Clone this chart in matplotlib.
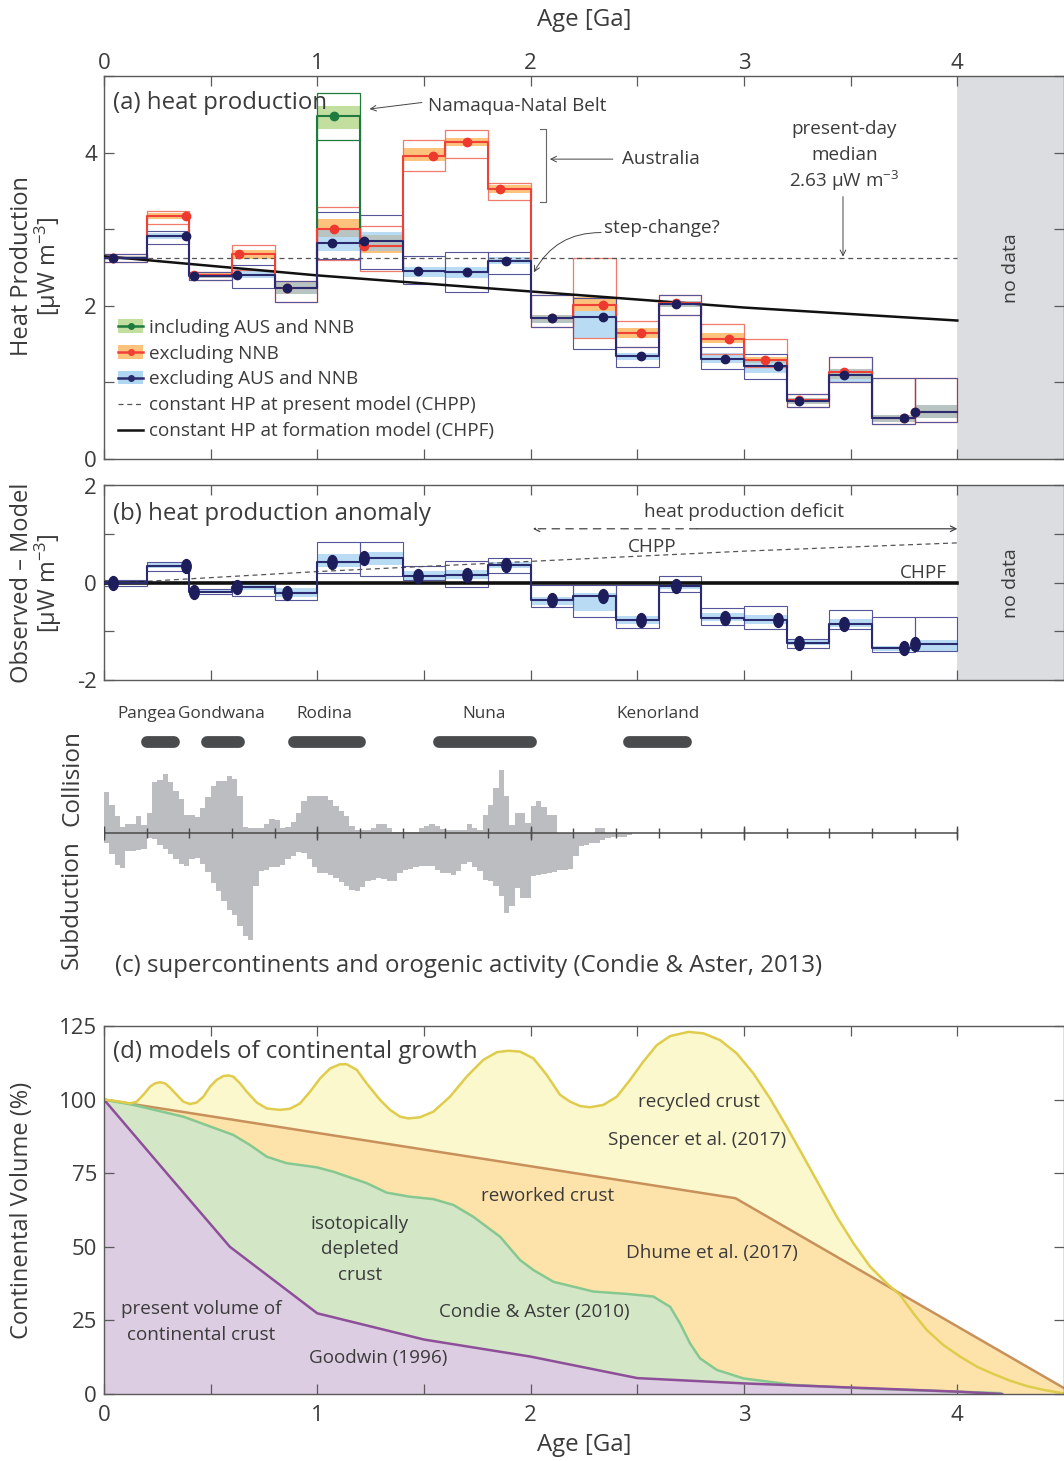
import matplotlib
matplotlib.use("Agg")
import matplotlib.pyplot as plt
import numpy as np
from matplotlib.patches import Patch
from matplotlib.lines import Line2D
from matplotlib.path import Path
from matplotlib.transforms import Affine2D

plt.rcParams['font.family'] = ['Open Sans', 'DejaVu Sans']
plt.rcParams['mathtext.fontset'] = 'custom'
plt.rcParams['mathtext.rm'] = 'Open Sans'
plt.rcParams['mathtext.default'] = 'regular'

TXT = '#3b3b3b'
SPINE = '#5a5a5a'

# ---------------- (a) heat production, 0.2 Ga bins ----------------
edges = [0.0, 0.2, 0.4, 0.6, 0.8, 1.0, 1.2, 1.4, 1.6, 1.8, 2.0,
         2.2, 2.4, 2.6, 2.8, 3.0, 3.2, 3.4, 3.6, 3.8, 4.0]

red_med = [2.63, 3.17, 2.40, 2.68, 2.24, 3.00, 2.79, 3.96, 4.15, 3.53,
           1.84, 2.01, 1.65, 2.04, 1.57, 1.29, 0.77, 1.14, 0.54, 0.61]
red_sh_lo = [2.61, 3.14, 2.37, 2.62, 2.16, 2.90, 2.69, 3.90, 4.09, 3.48,
             1.78, 1.93, 1.58, 1.99, 1.52, 1.25, 0.72, 1.05, 0.49, 0.53]
red_sh_hi = [2.66, 3.21, 2.43, 2.73, 2.32, 3.14, 2.93, 4.07, 4.19, 3.58,
             1.88, 2.12, 1.71, 2.07, 1.65, 1.33, 0.80, 1.18, 0.58, 0.70]
red_env_lo = [2.58, 3.07, 2.34, 2.47, 2.05, 2.60, 2.46, 3.77, 3.94, 3.39,
              1.72, 1.58, 1.47, 1.88, 1.37, 1.20, 0.68, 1.00, 0.46, 0.49]
red_env_hi = [2.68, 3.24, 2.45, 2.80, 2.33, 3.30, 3.05, 4.17, 4.30, 3.61,
              2.14, 2.63, 1.80, 2.15, 1.77, 1.57, 0.85, 1.33, 1.06, 1.06]
red_dx = [0.04, 0.386, 0.424, 0.634, 0.857, 1.08, 1.22, 1.544, 1.70, 1.856,
          2.10, 2.34, 2.515, 2.68, 2.93, 3.10, 3.26, 3.47, 3.75, 3.80]

blue_med = [2.63, 2.91, 2.39, 2.41, 2.24, 2.83, 2.85, 2.46, 2.44, 2.59,
            1.84, 1.86, 1.35, 2.02, 1.31, 1.22, 0.76, 1.10, 0.54, 0.61]
blue_sh_lo = [2.60, 2.88, 2.36, 2.37, 2.16, 2.72, 2.72, 2.38, 2.36, 2.55,
              1.78, 1.58, 1.30, 1.99, 1.25, 1.13, 0.72, 1.01, 0.49, 0.53]
blue_sh_hi = [2.66, 2.96, 2.42, 2.46, 2.32, 2.99, 2.97, 2.51, 2.51, 2.64,
              1.88, 1.93, 1.39, 2.07, 1.39, 1.28, 0.80, 1.18, 0.58, 0.70]
blue_env_lo = [2.58, 2.81, 2.34, 2.24, 2.05, 2.62, 2.49, 2.29, 2.18, 2.42,
               1.72, 1.44, 1.20, 1.88, 1.18, 1.05, 0.68, 1.00, 0.46, 0.49]
blue_env_hi = [2.68, 2.98, 2.45, 2.54, 2.33, 3.23, 3.19, 2.66, 2.70, 2.70,
               2.14, 2.10, 1.47, 2.15, 1.47, 1.37, 0.85, 1.33, 1.06, 1.06]
blue_dx = [0.04, 0.386, 0.424, 0.623, 0.857, 1.07, 1.217, 1.474, 1.70, 1.884,
           2.10, 2.34, 2.515, 2.68, 2.91, 3.16, 3.26, 3.47, 3.75, 3.80]

# Namaqua-Natal Belt bin (only place where the "including" series differs)
green_edges = [1.0, 1.2]
green_med = [4.48]
green_sh = [4.31, 4.62]
green_env = [4.17, 4.79]
green_dx = [1.08]

chpp_value = 2.63
chpf_age = [0.0, 1.0, 2.0, 3.0, 4.0]
chpf_hp = [2.65, 2.40, 2.19, 1.98, 1.81]

# ---------------- (b) anomaly (excluding AUS and NNB) ----------------
b_med = [0.00, 0.35, -0.18, -0.09, -0.21, 0.43, 0.50, 0.14, 0.16, 0.36,
         -0.35, -0.28, -0.77, -0.06, -0.72, -0.77, -1.23, -0.84, -1.35, -1.26]
b_sh_lo = [-0.03, 0.30, -0.22, -0.14, -0.29, 0.32, 0.37, 0.06, 0.08, 0.30,
           -0.46, -0.58, -0.84, -0.12, -0.79, -0.84, -1.28, -0.90, -1.40, -1.42]
b_sh_hi = [0.03, 0.40, -0.14, -0.02, -0.10, 0.60, 0.64, 0.25, 0.27, 0.42,
           -0.30, -0.21, -0.69, 0.01, -0.63, -0.67, -1.18, -0.75, -1.30, -1.17]
b_env_lo = [-0.06, 0.25, -0.24, -0.27, -0.36, 0.21, 0.14, 0.05, -0.08, 0.20,
            -0.50, -0.70, -0.93, -0.19, -0.87, -0.96, -1.35, -0.96, -1.42, -1.40]
b_env_hi = [0.06, 0.42, -0.12, 0.04, 0.04, 0.84, 0.83, 0.35, 0.45, 0.50,
            -0.04, -0.04, -0.04, 0.13, -0.52, -0.47, -1.15, -0.57, -0.71, -0.71]

# ---------------- (c) orogenic activity, 0.025 Ga bins (relative heights) ----------------
collision = [41, 28, 17, 6, 9, 9, 17, 8, 20, 51, 53, 59, 51, 42, 34, 18, 18, 16, 25, 36,
             47, 52, 52, 57, 54, 37, 6, 5, 5, 5, 9, 14, 13, 5, 6, 11, 20, 32, 37, 37,
             37, 37, 33, 27, 22, 17, 7, 3, 3, 3, 5, 9, 9, 5, 1, 1, 1, 1, 1, 5,
             7, 9, 7, 4, 3, 3, 3, 3, 9, 5, 3, 18, 28, 45, 63, 37, 8, 20, 20, 10,
             27, 32, 26, 18, 18, 0, 0, 0, 0, 0, 0, 0, 5, 5, 0, 0, 0, 0, 0, 0]
subduction = [10, 21, 32, 35, 18, 18, 17, 16, 5, 6, 12, 16, 21, 26, 31, 33, 26, 25, 31, 39,
              50, 58, 68, 77, 82, 93, 103, 107, 53, 38, 37, 34, 34, 32, 26, 23, 19, 20, 26, 34,
              40, 40, 42, 45, 49, 53, 57, 58, 54, 48, 47, 45, 46, 48, 48, 40, 37, 36, 34, 33,
              33, 33, 37, 40, 40, 42, 38, 31, 29, 34, 38, 47, 48, 53, 63, 80, 73, 55, 65, 65,
              43, 42, 41, 40, 39, 37, 37, 36, 23, 13, 12, 10, 10, 7, 5, 4, 4, 4, 2, 0]
super_names = ['Pangea', 'Gondwana', 'Rodina', 'Nuna', 'Kenorland']
super_start = [0.20, 0.485, 0.89, 1.57, 2.46]
super_end = [0.33, 0.634, 1.20, 2.00, 2.73]
super_label_x = [0.20, 0.55, 1.035, 1.78, 2.595]

# ---------------- (d) continental growth models ----------------
spencer_age = [0.0, 0.059, 0.122, 0.153, 0.184, 0.216, 0.239, 0.263, 0.286, 0.309,
               0.341, 0.372, 0.403, 0.434, 0.466, 0.497, 0.528, 0.559, 0.583, 0.606,
               0.638, 0.669, 0.716, 0.763, 0.825, 0.872, 0.919, 0.966, 1.013, 1.060,
               1.106, 1.138, 1.185, 1.231, 1.294, 1.341, 1.388, 1.427, 1.481, 1.544,
               1.622, 1.700, 1.778, 1.841, 1.896, 1.950, 2.013, 2.075, 2.138, 2.185,
               2.232, 2.278, 2.341, 2.404, 2.466, 2.528, 2.591, 2.654, 2.740, 2.810,
               2.888, 2.966, 3.044, 3.122, 3.200, 3.279, 3.357, 3.435, 3.513, 3.591,
               3.669, 3.732, 3.794, 3.857, 3.935, 4.013, 4.091, 4.169, 4.248, 4.326,
               4.404, 4.5]
spencer_vol = [100.0, 99.5, 98.7, 99.3, 101.6, 104.4, 105.5, 105.9, 105.5, 104.1,
               101.6, 99.3, 98.5, 99.0, 101.0, 104.4, 106.7, 108.0, 108.2, 107.8,
               105.5, 102.7, 99.0, 97.0, 96.5, 96.9, 98.7, 102.7, 107.2, 110.6,
               112.0, 112.0, 110.1, 105.5, 99.9, 96.5, 94.2, 93.6, 94.0, 95.9,
               101.0, 107.8, 113.5, 116.1, 116.6, 116.3, 114.0, 108.4, 101.6, 99.3,
               97.8, 97.4, 98.2, 101.0, 106.7, 112.9, 118.5, 121.6, 123.0, 122.5,
               120.2, 115.7, 108.9, 100.4, 90.8, 80.6, 70.4, 60.2, 51.2, 43.3,
               37.6, 33.6, 27.4, 21.7, 16.6, 12.7, 9.3, 6.8, 4.5, 2.7,
               1.4, 0.2]
dhume_age = [0.0, 2.96, 4.5]
dhume_vol = [100, 66.5, 2.0]
condie_age = [0.0, 0.137, 0.372, 0.606, 0.684, 0.763, 0.856, 0.997, 1.075, 1.232,
              1.325, 1.435, 1.544, 1.638, 1.731, 1.857, 1.95, 2.013, 2.107, 2.232,
              2.294, 2.45, 2.575, 2.654, 2.70, 2.747, 2.794, 2.872, 2.997, 3.23,
              3.55, 4.0, 4.2]
condie_vol = [100, 98.2, 94.2, 88.0, 84.6, 80.6, 78.4, 77.0, 75.5, 71.6,
              68.4, 67.0, 66.2, 64.2, 60.2, 53.4, 45.5, 42.1, 38.1, 35.9,
              34.8, 34.0, 33.1, 29.6, 24.0, 17.2, 12.1, 8.2, 5.3, 3.1,
              1.9, 0.8, 0.3]
goodwin_age = [0.0, 0.3, 0.59, 1.0, 1.5, 2.0, 2.5, 3.0, 3.5, 4.0, 4.21]
goodwin_vol = [100, 74.5, 50, 27.4, 18.5, 12.7, 5.4, 3.6, 2.2, 0.8, 0]

# ---------------- colours ----------------
GREEN_LN, GREEN_SH = '#1e7a3e', '#c3df9f'
RED_LN, RED_ENV, ORANGE_SH = '#ef4136', '#f07a6c', '#fdc27c'
BLUE_LN, BLUE_DOT, BLUE_ENV, BLUE_SH = '#2a2a6e', '#1d1d5c', '#55559a', '#8ec6ec'
NODATA = '#dcdde0'

FS_TITLE = 17.3
FS_NOTE = 13.6
FS_TICK = 16

W, H = 1064, 1461
fig = plt.figure(figsize=(W / 100, H / 100), dpi=100)


def px_axes(left, top, right, bottom):
    return fig.add_axes([left / W, 1 - bottom / H, (right - left) / W, (bottom - top) / H])


def step(ed, vals):
    x = np.repeat(ed, 2)[1:-1]
    y = np.repeat(vals, 2)
    return x, y


def frame(ax, ylim, yticks, ylabels):
    ax.set_xlim(0, 4.5)
    ax.set_ylim(*ylim)
    ax.set_xticks([0, 0.5, 1, 1.5, 2, 2.5, 3, 3.5, 4])
    ax.set_xticklabels(['0', '', '1', '', '2', '', '3', '', '4'])
    ax.set_yticks(yticks)
    ax.set_yticklabels(ylabels)
    ax.tick_params(direction='in', length=7.5, width=0.9, colors=SPINE, labelcolor=TXT,
                   top=True, right=True, labelsize=FS_TICK, pad=5)
    for s in ax.spines.values():
        s.set_color(SPINE)
        s.set_linewidth(1.0)


def ftext(xp, yp, s, **kw):
    fig.text(xp / W, 1 - yp / H, s, color=TXT, ha='center', va='center', **kw)


ax_a = px_axes(104, 76.5, 1064, 459)
ax_b = px_axes(104, 485.5, 1064, 680)
ax_c = px_axes(104, 700, 1064, 990)
ax_d = px_axes(104, 1026, 1064, 1394)

widths = np.diff(edges)
left = np.array(edges[:-1])
arrow_kw = dict(arrowstyle='->', lw=0.7, color='#444444', shrinkA=0, shrinkB=0)

# ================= (a) =================
ax = ax_a
frame(ax, (0, 5), [0, 1, 2, 3, 4, 5], ['0', '', '2', '', '4', ''])
ax.tick_params(axis='x', labeltop=True, labelbottom=False, pad=2)
ax.axvspan(4, 4.5, color=NODATA, lw=0, zorder=0)

# shaded bands
ax.bar(left, np.subtract(red_sh_hi, red_sh_lo), bottom=red_sh_lo, width=widths,
       align='edge', color=ORANGE_SH, lw=0, zorder=1)
ax.bar(left, np.subtract(blue_sh_hi, blue_sh_lo), bottom=blue_sh_lo, width=widths,
       align='edge', color=BLUE_SH, alpha=0.62, lw=0, zorder=1.1)
ax.bar(green_edges[0], green_sh[1] - green_sh[0], bottom=green_sh[0], width=0.2,
       align='edge', color=GREEN_SH, lw=0, zorder=1)
# envelopes
ax.bar(left, np.subtract(red_env_hi, red_env_lo), bottom=red_env_lo, width=widths,
       align='edge', fill=False, edgecolor=RED_ENV, lw=0.9, zorder=2)
ax.bar(left, np.subtract(blue_env_hi, blue_env_lo), bottom=blue_env_lo, width=widths,
       align='edge', fill=False, edgecolor=BLUE_ENV, lw=0.8, zorder=2.1)
ax.bar(green_edges[0], green_env[1] - green_env[0], bottom=green_env[0], width=0.2,
       align='edge', fill=False, edgecolor=GREEN_LN, lw=0.9, zorder=2)

# model lines
ax.plot([0, 4], [chpp_value, chpp_value], ls=(0, (4, 3)), color='#555555', lw=0.9, zorder=2.5)
ax.plot(chpf_age, chpf_hp, color='#111111', lw=1.8, zorder=2.6)

# medians
ax.plot([green_edges[0], green_edges[0], green_edges[1], green_edges[1]],
        [blue_med[4], green_med[0], green_med[0], red_med[6]], color=GREEN_LN, lw=1.5, zorder=3)
x, y = step(edges, red_med)
ax.plot(x, y, color=RED_LN, lw=1.5, zorder=3.1)
x, y = step(edges, blue_med)
ax.plot(x, y, color=BLUE_LN, lw=1.5, zorder=3.2)
ax.plot(green_dx, green_med, 'o', color=GREEN_LN, ms=6, zorder=4)
ax.plot(red_dx, red_med, 'o', color='#ee3a2e', ms=6, zorder=4.1)
ax.plot(blue_dx, blue_med, 'o', color=BLUE_DOT, ms=6, zorder=4.2)

ax.text(0.042, 4.65, '(a) heat production', fontsize=FS_TITLE, color=TXT, va='center')
ax.text(1.52, 4.62, 'Namaqua-Natal Belt', fontsize=FS_NOTE, color=TXT, va='center')
ax.annotate('', xy=(1.245, 4.575), xytext=(1.49, 4.66), arrowprops=arrow_kw)
ax.text(2.428, 3.92, 'Australia', fontsize=FS_NOTE, color=TXT, va='center')
ax.plot([2.045, 2.07, 2.07, 2.045], [4.31, 4.31, 3.36, 3.36], color='#666666', lw=0.8)
ax.annotate('', xy=(2.09, 3.92), xytext=(2.385, 3.92), arrowprops=arrow_kw)
for s, yv in zip(['present-day', 'median', '2.63 μW m$^{-3}$'], [4.32, 3.98, 3.64]):
    ax.text(3.47, yv, s, fontsize=FS_NOTE, color=TXT, ha='center', va='center')
ax.annotate('', xy=(3.464, 2.645), xytext=(3.464, 3.43), arrowprops=arrow_kw)
ax.text(2.344, 3.02, 'step-change?', fontsize=FS_NOTE, color=TXT, va='center')
ax.annotate('', xy=(2.015, 2.44), xytext=(2.33, 2.96),
            arrowprops=dict(arrow_kw, connectionstyle='arc3,rad=0.3'))
ax.text(4.25, 2.5, 'no data', fontsize=14, color=TXT, rotation=90, ha='center', va='center')

handles = [
    (Patch(facecolor=GREEN_SH, edgecolor='none'),
     Line2D([], [], color=GREEN_LN, lw=1.8, marker='o', ms=4)),
    (Patch(facecolor=ORANGE_SH, edgecolor='none'),
     Line2D([], [], color=RED_LN, lw=1.8, marker='o', ms=4)),
    (Patch(facecolor=BLUE_SH, edgecolor='none', alpha=0.7),
     Line2D([], [], color=BLUE_LN, lw=1.8, marker='o', ms=4)),
    Line2D([], [], color='#555555', lw=0.9, ls=(0, (4, 3))),
    Line2D([], [], color='#111111', lw=1.8),
]
labels = ['including AUS and NNB', 'excluding NNB', 'excluding AUS and NNB',
          'constant HP at present model (CHPP)', 'constant HP at formation model (CHPF)']
ax.legend(handles, labels, loc='upper left', bbox_to_anchor=(0.015, 0.367), frameon=False,
          fontsize=FS_NOTE, labelcolor=TXT, handlelength=1.3, handleheight=0.7,
          handletextpad=0.3, labelspacing=0.42, borderaxespad=0, borderpad=0)

ftext(584, 20, 'Age [Ga]', fontsize=FS_TITLE)
ftext(22, 266, 'Heat Production', fontsize=17, rotation=90)
ftext(48, 266, '[μW m$^{-3}$]', fontsize=17, rotation=90)

# ================= (b) =================
ax = ax_b
frame(ax, (-2, 2), [-2, -1, 0, 1, 2], ['-2', '', '0', '', '2'])
ax.tick_params(labelbottom=False)
ax.axvspan(4, 4.5, color=NODATA, lw=0, zorder=0)
ax.bar(left, np.subtract(b_sh_hi, b_sh_lo), bottom=b_sh_lo, width=widths,
       align='edge', color=BLUE_SH, alpha=0.62, lw=0, zorder=1)
ax.bar(left, np.subtract(b_env_hi, b_env_lo), bottom=b_env_lo, width=widths,
       align='edge', fill=False, edgecolor=BLUE_ENV, lw=0.8, zorder=2)
ax.plot(chpf_age, chpp_value - np.array(chpf_hp), ls=(0, (4, 3)), color='#555555', lw=0.9, zorder=2.5)
ax.plot([0, 4], [0, 0], color='#111111', lw=2.6, zorder=2.6)
x, y = step(edges, b_med)
ax.plot(x, y, color=BLUE_LN, lw=1.5, zorder=3)
ell = Path.unit_circle().transformed(Affine2D().scale(0.68, 1.0))
ax.plot(blue_dx, b_med, ls='none', marker=ell, ms=10, color=BLUE_DOT, zorder=4)

ax.text(0.042, 1.415, '(b) heat production anomaly', fontsize=FS_TITLE, color=TXT, va='center')
ax.text(3.0, 1.45, 'heat production deficit', fontsize=FS_NOTE, color=TXT, ha='center', va='center')
ax.annotate('', xy=(2.01, 1.11), xytext=(2.78, 1.11),
            arrowprops=dict(arrow_kw, lw=0.9, ls=(0, (6, 5))))
ax.annotate('', xy=(4.0, 1.11), xytext=(2.78, 1.11), arrowprops=dict(arrow_kw, lw=0.9))
ax.text(2.57, 0.74, 'CHPP', fontsize=FS_NOTE, color=TXT, ha='center', va='center')
ax.text(3.84, 0.21, 'CHPF', fontsize=FS_NOTE, color=TXT, ha='center', va='center')
ax.text(4.25, 0.0, 'no data', fontsize=14, color=TXT, rotation=90, ha='center', va='center')
ftext(22, 583, 'Observed – Model', fontsize=17, rotation=90)
ftext(48, 583, '[μW m$^{-3}$]', fontsize=17, rotation=90)

# ================= (c) =================
ax = ax_c
ax.set_axis_off()
ax.set_xlim(0, 4.5)
ax.set_ylim(-157, 133)
bin_left = np.arange(len(collision)) * 0.025
ax.bar(bin_left, collision, width=0.025, align='edge', color='#bcbdc1', lw=0)
ax.bar(bin_left, -np.array(subduction), width=0.025, align='edge', color='#bcbdc1', lw=0)
ax.plot([0, 4], [0, 0], color='#4a4a4a', lw=1.1)
ticks_c = np.arange(21) * 0.2
ax.vlines(ticks_c, -5, 5, color='#4a4a4a', lw=1.0)
ax.vlines([0, 1, 2, 3, 4], -7, 7, color='#4a4a4a', lw=1.0)
for s, e in zip(super_start, super_end):
    ax.plot([s, e], [91, 91], color='#4a4b4d', lw=8.5, solid_capstyle='round')
for name, xl in zip(super_names, super_label_x):
    ax.text(xl, 119, name, fontsize=12.3, color=TXT, ha='center', va='center')
ax.text(0.052, -133, '(c) supercontinents and orogenic activity (Condie & Aster, 2013)',
        fontsize=FS_TITLE, color=TXT, va='center')
ftext(72, 778, 'Collision', fontsize=17.5, rotation=90)
ftext(72, 905, 'Subduction', fontsize=17.5, rotation=90)

# ================= (d) =================
ax = ax_d
frame(ax, (0, 125), [0, 25, 50, 75, 100, 125], ['0', '25', '50', '75', '100', '125'])
ax.tick_params(axis='x', pad=8)
ax.fill_between(spencer_age, spencer_vol, color='#fbf8cd', lw=0, zorder=1)
ax.fill_between(dhume_age, dhume_vol, color='#fde3aa', lw=0, zorder=1.1)
ax.fill_between(condie_age, condie_vol, color='#d3e7c7', lw=0, zorder=1.2)
ax.fill_between(goodwin_age, goodwin_vol, color='#dccde2', lw=0, zorder=1.3)
ax.plot(dhume_age, dhume_vol, color='#c8915b', lw=1.8, zorder=2)
ax.plot(condie_age, condie_vol, color='#86c890', lw=1.8, zorder=2.1)
ax.plot(goodwin_age, goodwin_vol, color='#8d4f98', lw=1.8, zorder=2.2)
ax.plot(spencer_age, spencer_vol, color='#e0cc4c', lw=1.8, zorder=2.3)

ax.text(0.042, 116.2, '(d) models of continental growth', fontsize=FS_TITLE, color=TXT, va='center')
dk = dict(fontsize=FS_NOTE, color=TXT, ha='center', va='center')
ax.text(2.79, 99.2, 'recycled crust', **dk)
ax.text(2.78, 86.3, 'Spencer et al. (2017)', **dk)
ax.text(2.08, 67.3, 'reworked crust', **dk)
ax.text(2.85, 47.9, 'Dhume et al. (2017)', **dk)
for s, yv in zip(['isotopically', 'depleted', 'crust'], [57.7, 49.3, 40.4]):
    ax.text(1.20, yv, s, **dk)
ax.text(2.016, 27.9, 'Condie & Aster (2010)', **dk)
for s, yv in zip(['present volume of', 'continental crust'], [28.9, 20.0]):
    ax.text(0.455, yv, s, **dk)
ax.text(1.285, 12.2, 'Goodwin (1996)', **dk)
ftext(584, 1445, 'Age [Ga]', fontsize=FS_TITLE)
ftext(22, 1210, 'Continental Volume (%)', fontsize=17, rotation=90)

fig.savefig('out.png', dpi=100)
